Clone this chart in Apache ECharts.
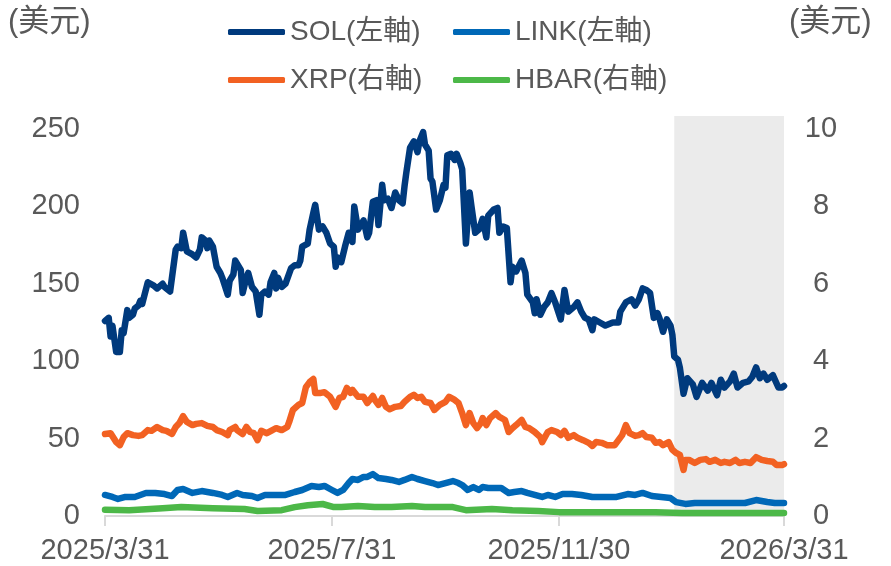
<!DOCTYPE html>
<html>
<head>
<meta charset="utf-8">
<script src="https://cdn.jsdelivr.net/npm/echarts@6/dist/echarts.min.js"></script>
<style>
  html, body { margin: 0; padding: 0; background: #fff; }
  #chart { width: 891px; height: 566px; }
</style>
</head>
<body>
<div id="chart"></div>
<script>
// x = days since 2025/3/31
const tickDays = [0, 122, 244, 365]
const tickLabels = ['2025/3/31', '2025/7/31', '2025/11/30', '2026/3/31']
const leftTicks = [0, 50, 100, 150, 200, 250]
const rightTicks = [0, 2, 4, 6, 8, 10]
const shadeFrom = 306

// SOL (左軸)
const sol = [[0,126],[2,128],[3,116],[4,123],[6,106],[8,106],[9,120],[10,118],[12,133],[13,128],[15,130],[16,134],[18,136],[19,139],[20,137],[23,151],[24,152],[26,149],[28,147],[31,150],[32,148],[35,145],[36,144],[38,172],[39,174],[41,173],[42,183],[44,171],[47,169],[49,167],[51,172],[52,180],[54,178],[55,173],[56,178],[58,174],[60,161],[62,157],[63,154],[66,143],[67,152],[69,156],[70,165],[73,159],[74,144],[76,154],[77,157],[79,148],[81,145],[83,130],[84,143],[86,145],[88,143],[89,151],[91,157],[92,147],[93,154],[95,148],[97,150],[98,151],[100,160],[102,162],[104,162],[105,165],[106,174],[109,176],[110,185],[112,196],[113,201],[115,185],[117,187],[118,185],[119,183],[121,176],[123,174],[124,161],[125,167],[127,164],[129,174],[131,183],[133,177],[134,200],[136,185],[139,191],[141,180],[142,183],[144,203],[146,204],[147,188],[149,214],[150,204],[152,205],[154,199],[156,209],[158,204],[160,202],[161,213],[162,222],[164,238],[166,242],[168,235],[169,242],[171,248],[172,240],[174,236],[175,218],[176,216],[178,198],[180,204],[182,214],[183,212],[184,233],[186,234],[188,230],[189,234],[191,228],[192,224],[194,176],[196,209],[197,200],[199,183],[201,185],[203,192],[205,180],[206,194],[209,198],[211,199],[212,183],[214,187],[216,186],[218,151],[219,161],[221,158],[224,165],[226,157],[227,143],[230,138],[231,131],[232,140],[234,130],[236,135],[238,138],[240,144],[242,138],[245,127],[247,146],[249,132],[252,135],[254,138],[256,132],[258,128],[260,127],[262,120],[263,127],[266,125],[269,123],[270,122],[273,125],[276,125],[277,132],[280,138],[281,138],[283,140],[285,136],[287,140],[289,147],[291,146],[293,144],[295,128],[297,131],[298,128],[300,119],[302,127],[304,123],[305,117],[306,103],[308,101],[309,96],[311,79],[313,89],[316,85],[318,77],[321,86],[324,81],[326,86],[329,78],[331,88],[333,83],[336,87],[338,92],[340,83],[343,86],[346,87],[348,90],[350,96],[352,89],[354,92],[356,88],[359,91],[362,83],[364,83],[365,84]]

// LINK (左軸)
const link = [[0,13.6],[4,12.3],[7,11.0],[11,12.3],[16,12.3],[22,14.9],[27,14.9],[32,14.2],[36,12.9],[39,16.8],[42,17.4],[47,14.9],[52,16.1],[58,14.9],[63,13.6],[66,12.3],[71,14.9],[74,13.6],[79,12.9],[82,11.6],[86,13.6],[91,13.6],[97,13.6],[102,15.5],[106,16.8],[111,19.4],[115,18.7],[118,19.4],[122,16.8],[125,14.9],[128,16.8],[131,21.3],[133,23.9],[136,23.3],[139,25.2],[141,25.2],[144,27.1],[147,24.5],[151,23.9],[154,23.3],[158,22.0],[161,23.3],[165,25.2],[168,23.9],[172,22.6],[176,21.3],[179,20.0],[183,21.3],[187,22.6],[190,21.3],[192,20.0],[195,16.8],[198,18.7],[201,16.8],[203,18.7],[206,18.1],[210,18.1],[213,18.1],[217,14.9],[220,15.5],[224,16.1],[227,14.9],[231,13.6],[235,12.3],[238,13.6],[242,12.3],[246,14.2],[251,14.2],[256,13.6],[262,12.3],[269,12.3],[275,12.3],[281,14.2],[285,13.6],[289,14.9],[294,12.9],[299,12.3],[304,11.6],[307,9.0],[312,7.8],[317,8.4],[323,8.4],[328,8.4],[333,8.4],[339,8.4],[344,8.4],[350,10.3],[356,9.0],[360,8.4],[365,8.4]]

// XRP (右軸)
const xrp = [[0,2.12],[3,2.14],[4,2.09],[6,1.91],[8,1.83],[10,2.04],[12,2.14],[15,2.09],[18,2.07],[20,2.09],[23,2.22],[25,2.20],[28,2.30],[31,2.22],[33,2.20],[36,2.12],[38,2.30],[40,2.40],[42,2.58],[44,2.43],[47,2.35],[49,2.38],[52,2.40],[55,2.33],[58,2.30],[60,2.22],[63,2.17],[66,2.09],[67,2.22],[70,2.30],[71,2.22],[74,2.12],[76,2.30],[78,2.17],[80,2.14],[82,1.96],[84,2.20],[87,2.14],[90,2.22],[92,2.27],[95,2.22],[98,2.30],[99,2.43],[101,2.74],[104,2.87],[106,2.92],[108,3.33],[110,3.46],[112,3.54],[113,3.18],[116,3.18],[118,3.20],[121,3.08],[124,2.82],[126,3.05],[128,3.08],[130,3.31],[132,3.18],[133,3.26],[136,3.08],[139,3.08],[141,2.92],[144,3.10],[145,3.00],[147,2.87],[149,3.05],[151,2.82],[153,2.76],[156,2.82],[159,2.84],[161,2.95],[164,3.08],[166,3.13],[168,3.05],[170,3.08],[172,2.95],[175,2.92],[177,2.74],[180,2.87],[183,2.95],[185,3.08],[188,3.00],[190,2.92],[192,2.66],[194,2.35],[196,2.66],[198,2.40],[200,2.27],[202,2.40],[203,2.53],[205,2.35],[207,2.53],[210,2.66],[212,2.56],[215,2.48],[217,2.17],[219,2.27],[221,2.35],[224,2.48],[226,2.30],[228,2.27],[231,2.17],[234,2.04],[235,1.91],[238,2.17],[240,2.22],[243,2.17],[245,2.09],[247,2.20],[249,2.02],[252,2.09],[254,2.02],[257,1.96],[260,1.89],[262,1.81],[264,1.91],[267,1.89],[270,1.83],[274,1.83],[276,1.96],[278,2.09],[280,2.35],[282,2.14],[285,2.07],[287,2.09],[289,2.14],[291,2.04],[294,2.02],[296,1.89],[298,1.91],[300,1.83],[303,1.91],[305,1.71],[307,1.63],[309,1.58],[311,1.19],[312,1.45],[314,1.45],[317,1.37],[320,1.45],[323,1.47],[325,1.40],[328,1.45],[331,1.37],[333,1.40],[336,1.37],[339,1.45],[341,1.37],[344,1.40],[347,1.37],[350,1.52],[353,1.45],[356,1.42],[359,1.40],[361,1.32],[364,1.32],[365,1.34]]

// HBAR (右軸)
const hbar = [[0,0.16],[13,0.15],[31,0.20],[41,0.23],[58,0.20],[75,0.18],[82,0.13],[95,0.15],[102,0.23],[109,0.28],[117,0.31],[123,0.23],[127,0.23],[136,0.26],[145,0.23],[154,0.23],[165,0.26],[172,0.23],[187,0.23],[194,0.15],[208,0.18],[219,0.15],[233,0.13],[244,0.10],[260,0.10],[278,0.10],[296,0.10],[310,0.08],[332,0.08],[365,0.08]]

const font = "'Liberation Sans', Arial, 'Noto Sans CJK TC', sans-serif"
const textColor = '#595959'

const chart = echarts.init(document.getElementById('chart'))

function lineSeries(name, data, color, yIndex) {
  return {
    name: name,
    type: 'line',
    data: data,
    yAxisIndex: yIndex,
    showSymbol: false,
    symbol: 'none',
    lineStyle: { color: color, width: 6.5, join: 'round', cap: 'round' },
    itemStyle: { color: color },
    animation: false
  }
}

function legendAt(name, left, top) {
  return {
    data: [name],
    left: left,
    top: top,
    padding: 0,
    icon: 'roundRect',
    itemWidth: 57,
    itemHeight: 6,
    textStyle: { fontSize: 28, color: textColor, fontFamily: font },
    selectedMode: false
  }
}

const series = [
  lineSeries('HBAR(右軸)', hbar, '#4cb848', 1),
  lineSeries('LINK(左軸)', link, '#0068b7', 0),
  lineSeries('XRP(右軸)', xrp, '#f26122', 1),
  lineSeries('SOL(左軸)', sol, '#003a7d', 0)
]
// 灰色陰影區
series[0].markArea = {
  silent: true,
  itemStyle: { color: '#ebebeb' },
  data: [[{ xAxis: shadeFrom }, { xAxis: 365 }]]
}

const option = {
  backgroundColor: '#fff',
  animation: false,
  grid: { left: 105, right: 107, top: 116, bottom: 50 },
  legend: [
    legendAt('SOL(左軸)', 228, 18),
    legendAt('LINK(左軸)', 453, 18),
    legendAt('XRP(右軸)', 228, 66),
    legendAt('HBAR(右軸)', 453, 66)
  ],
  graphic: [
    { type: 'text', left: 8, top: 7, style: { text: '(美元)', font: '31px ' + font, fill: textColor } },
    { type: 'text', left: 789, top: 7, style: { text: '(美元)', font: '31px ' + font, fill: textColor } }
  ],
  xAxis: {
    type: 'value',
    min: 0,
    max: 365,
    splitLine: { show: false },
    axisLine: { show: true, lineStyle: { color: '#d9d9d9', width: 2 } },
    axisTick: { show: true, customValues: tickDays, length: 10, lineStyle: { color: '#d9d9d9', width: 2 } },
    axisLabel: {
      customValues: tickDays,
      margin: 20,
      fontSize: 29,
      color: textColor,
      fontFamily: font,
      formatter: function (v) {
        const i = tickDays.indexOf(Math.round(v))
        return i >= 0 ? tickLabels[i] : ''
      }
    }
  },
  yAxis: [
    {
      type: 'value',
      min: 0,
      max: 250 * 400 / 387,
      splitLine: { show: false },
      axisLine: { show: false },
      axisTick: { show: false },
      axisLabel: { customValues: leftTicks, margin: 25, fontSize: 29, color: textColor, fontFamily: font }
    },
    {
      type: 'value',
      min: 0,
      max: 10 * 400 / 387,
      splitLine: { show: false },
      axisLine: { show: false },
      axisTick: { show: false },
      axisLabel: { customValues: rightTicks, margin: 37, align: 'center', fontSize: 29, color: textColor, fontFamily: font }
    }
  ],
  series: series
}

chart.setOption(option)
</script>
</body>
</html>
